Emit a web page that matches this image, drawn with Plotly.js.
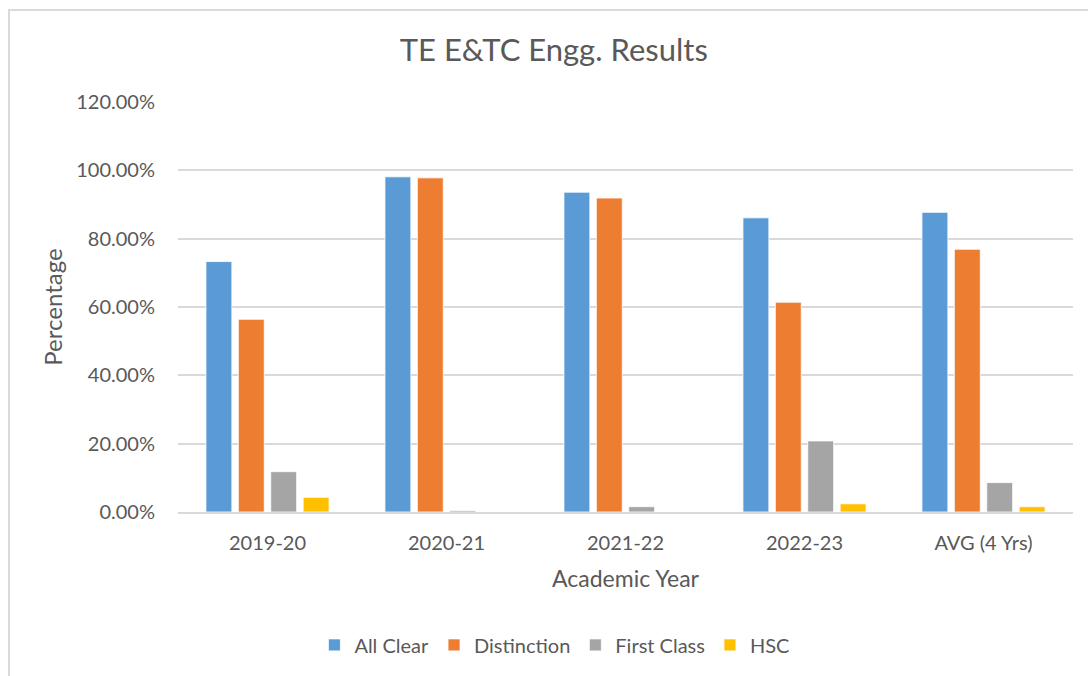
<!DOCTYPE html>
<html>
<head>
<meta charset="utf-8">
<script src="https://cdn.plot.ly/plotly-3.0.1.min.js"></script>
<style>
html,body{margin:0;padding:0;background:#fff;}
#wrap{position:relative;width:1088px;height:676px;overflow:hidden;}
#chart{width:1088px;height:676px;}
#frame{position:absolute;left:8px;top:9px;width:1200px;height:800px;border-left:2px solid #D9D9D9;border-top:2px solid #D9D9D9;pointer-events:none;}
</style>
</head>
<body>
<div id="wrap"><div id="chart"></div><div id="frame"></div></div>
<script>
const categories = ["2019-20", "2020-21", "2021-22", "2022-23", "AVG (4 Yrs)"];
const allClear    = [0.733, 0.981, 0.936, 0.861, 0.877];
const distinction = [0.564, 0.978, 0.919, 0.614, 0.769];
const firstClass  = [0.118, 0.004, 0.0155, 0.208, 0.086];
const hsc         = [0.043, 0, 0, 0.024, 0.0155];
const seriesNames = ["All Clear", "Distinction", "First Class", "HSC"];
const colors = ["#5B9BD5", "#ED7D31", "#A5A5A5", "#FFC000"];
const yTicks = [0, 0.2, 0.4, 0.6, 0.8, 1.0, 1.2];
const yTickText = ["0.00%", "20.00%", "40.00%", "60.00%", "80.00%", "100.00%", "120.00%"];

const FONT = "Lato, 'Open Sans', sans-serif";
const values = [allClear, distinction, firstClass, hsc];
const traces = values.map((v, i) => ({
  type: "bar",
  name: seriesNames[i],
  x: categories,
  y: v,
  marker: {color: colors[i], line: {color: "#FFFFFF", width: 0.8}},
  hoverinfo: "x+y+name"
}));

const layout = {
  width: 1088, height: 676,
  paper_bgcolor: "rgba(0,0,0,0)", plot_bgcolor: "#FFFFFF",
  margin: {l: 178, r: 15, t: 102, b: 164},
  barmode: "group",
  bargap: 0.276,
  bargroupgap: 0.2,
  font: {family: FONT, color: "#595959", size: 20},
  title: {text: "TE E&TC Engg. Results", x: 0.509, xref: "container", xanchor: "center",
          y: 0.926, yref: "container", yanchor: "middle",
          font: {family: FONT, size: 31, color: "#595959"}},
  xaxis: {
    title: {text: "Academic Year", font: {family: FONT, size: 23, color: "#595959"}, standoff: 18},
    tickfont: {family: FONT, size: 20, color: "#595959"},
    ticklabelstandoff: 12,
    showline: true, linecolor: "#D9D9D9", linewidth: 1.5,
    ticks: "", showgrid: false, fixedrange: true, automargin: false
  },
  yaxis: {
    title: {text: "Percentage", font: {family: FONT, size: 24, color: "#595959"}, standoff: 6},
    range: [0, 1.2],
    tickvals: yTicks, ticktext: yTickText,
    tickfont: {family: FONT, size: 20, color: "#595959"},
    ticklabelstandoff: 22,
    showgrid: true, gridcolor: "#D9D9D9", gridwidth: 1.5,
    zeroline: false, showline: false, ticks: "", ticklen: 0,
    fixedrange: true, automargin: false
  },
  legend: {
    orientation: "h", x: 0.51, xanchor: "center", xref: "container",
    y: 0.046, yref: "container", yanchor: "middle",
    font: {family: FONT, size: 20, color: "#595959"},
    itemwidth: 30, traceorder: "normal"
  },
  showlegend: true
};

Plotly.newPlot("chart", traces, layout, {displayModeBar: false, responsive: false});
</script>
</body>
</html>
